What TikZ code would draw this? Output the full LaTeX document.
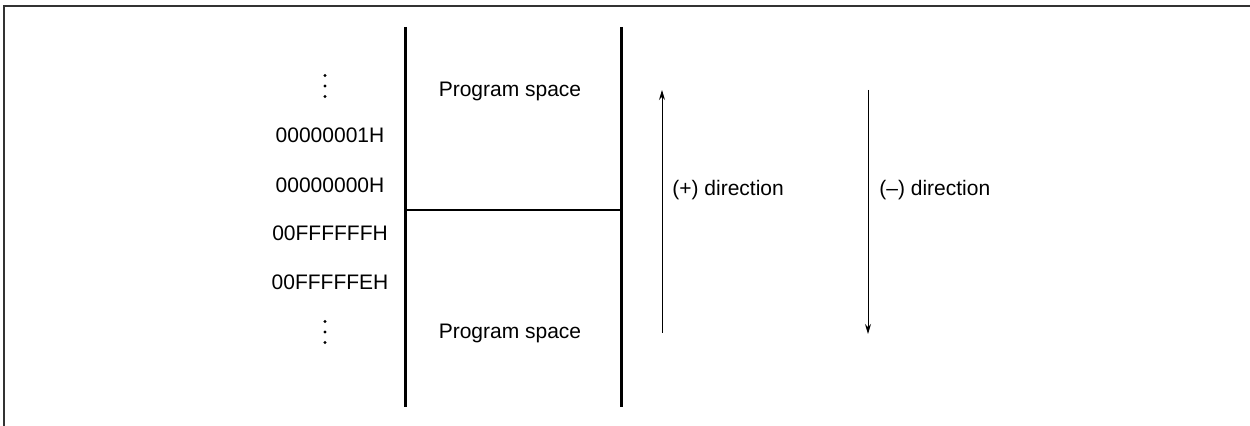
\documentclass[tikz,border=0pt]{standalone}
\usepackage{fontspec}
\setmainfont{Liberation Sans}
\usetikzlibrary{arrows.meta, positioning}

\begin{document}
\begin{tikzpicture}[
  x=0.5pt, y=-0.5pt,
  font=\fontsize{10.5}{12}\selectfont,
  addr/.style={anchor=base, inner sep=0pt},
  area/.style={anchor=base, inner sep=0pt},
  lbl/.style={anchor=base west, inner sep=0pt},
  wall/.style={line width=1.5pt},
  divider/.style={line width=0.6pt},
  dirarrow/.style={-{Stealth[length=5pt, width=3pt]}, line width=0.5pt},
  frame/.style={line width=1pt, draw=black!80}
]
\useasboundingbox (0,0) rectangle (1250,426);

% Cadre
\draw[frame] (4,426) -- (4,6) -- (1250,6);

% Espace mémoire
\coordinate (wall_l_top) at (405,27);
\coordinate (wall_l_bot) at (405,407);
\coordinate (wall_r_top) at (621,27);
\coordinate (wall_r_bot) at (621,407);
\coordinate (div_l) at (405,210);
\coordinate (div_r) at (621,210);
\draw[wall] (wall_l_top) -- (wall_l_bot);
\draw[wall] (wall_r_top) -- (wall_r_bot);
\draw[divider] (div_l) -- (div_r);

\node[area] (prog_hi) at (510,97) {Program space};
\node[area] (prog_lo) at (510,339) {Program space};

% Adresses
\coordinate (dots_hi) at (325,86);
\coordinate (dots_lo) at (325,332);
\foreach \dy in {-10.5,0,10.5} {
  \fill ([yshift=-\dy*0.5pt]dots_hi) circle (0.8pt);
  \fill ([yshift=-\dy*0.5pt]dots_lo) circle (0.8pt);
}
\node[addr] (addr_one) at (330,143) {00000001H};
\node[addr] (addr_zero) at (330,193) {00000000H};
\node[addr] (addr_ff) at (330,241) {00FFFFFFH};
\node[addr] (addr_fe) at (330,290) {00FFFFFEH};

% Directions
\coordinate (up_start) at (662,333);
\coordinate (up_end) at (662,90);
\coordinate (down_start) at (868,90);
\coordinate (down_end) at (868,334);
\draw[dirarrow] (up_start) -- (up_end);
\draw[dirarrow] (down_start) -- (down_end);
\node[lbl] (plus_dir) at (672,196) {(+) direction};
\node[lbl] (minus_dir) at (879,196) {(–) direction};

\end{tikzpicture}
\end{document}
